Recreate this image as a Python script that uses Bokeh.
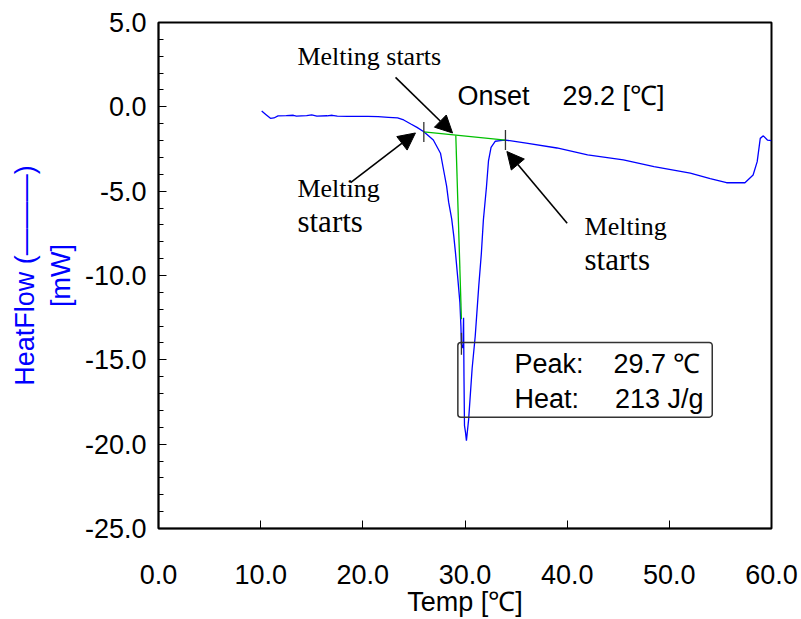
from bokeh.plotting import figure
from bokeh.models import (Range1d, SingleIntervalTicker, NumeralTickFormatter, Arrow,
                          NormalHead, BoxAnnotation, Label)
from bokeh.embed import file_html
from bokeh.resources import INLINE

# ---- data ----
temp = [10.1, 10.5, 10.96, 11.3, 11.7, 12.5, 13.2, 13.5, 14.5, 15.0, 15.5, 16.5, 17.0, 17.5,
        18.5, 19.5, 20.5, 21.5, 22.5, 23.4, 24.0, 24.7, 25.3, 25.97, 26.9, 27.6, 27.9, 28.2,
        28.4, 28.7, 28.9, 29.06, 29.3, 29.5, 29.6, 29.65, 29.8, 29.86, 29.9, 29.95, 30.05,
        30.14, 30.36, 30.7, 31.0, 31.35, 31.6, 31.8, 32.1, 32.3, 32.55, 32.97, 33.46, 33.96,
        36.0, 39.0, 42.0, 45.5, 48.5, 52.05, 54.0, 55.6, 57.4, 58.2, 58.6, 58.9, 59.2, 59.6, 60.0]
heat = [-0.25, -0.45, -0.68, -0.66, -0.54, -0.52, -0.50, -0.55, -0.52, -0.48, -0.55, -0.53,
        -0.50, -0.55, -0.56, -0.56, -0.57, -0.58, -0.62, -0.66, -0.78, -1.02, -1.22, -1.48,
        -1.97, -2.75, -3.73, -4.7, -5.65, -6.66, -7.65, -8.6, -10.2, -11.6, -13.0, -14.1,
        -14.3, -12.5, -16.0, -18.9, -19.3, -19.8, -18.5, -15.5, -13.6, -10.6, -8.7, -6.7,
        -4.75, -3.2, -2.4, -2.04, -2.0, -1.97, -2.15, -2.44, -2.85, -3.15, -3.55, -3.93,
        -4.25, -4.5, -4.5, -4.04, -3.25, -1.87, -1.72, -1.97, -2.0]

baseline_t = [25.97, 33.96]
baseline_v = [-1.48, -1.97]
onset_t = [29.1, 29.65]
onset_v = [-1.7, -12.6]
mark_t = [25.97, 33.96, 29.65]
mark_top = [-0.9, -1.37, -13.4]
mark_bot = [-2.09, -2.56, -14.7]

SANS = "Liberation Sans"
SERIF = "Liberation Serif"

p = figure(width=801, height=619, x_range=Range1d(0, 60), y_range=Range1d(-25, 5),
           output_backend="svg", toolbar_location=None,
           min_border_left=158, min_border_right=30, min_border_top=22, min_border_bottom=89)
p.background_fill_color = "white"
p.border_fill_color = "white"
p.outline_line_color = "black"
p.outline_line_width = 2
p.outline_line_alpha = 1
p.grid.visible = False

# axes
p.xaxis.ticker = SingleIntervalTicker(interval=10, num_minor_ticks=0)
p.yaxis.ticker = SingleIntervalTicker(interval=5, num_minor_ticks=5)
p.xaxis.formatter = NumeralTickFormatter(format="0.0")
p.yaxis.formatter = NumeralTickFormatter(format="0.0")
for ax in (p.xaxis, p.yaxis):
    ax.major_tick_in = 8
    ax.major_tick_out = 0
    ax.minor_tick_in = 5
    ax.minor_tick_out = 0
    ax.axis_line_color = "black"
    ax.axis_line_width = 1.5
    ax.major_tick_line_color = "black"
    ax.minor_tick_line_color = "black"
    ax.major_label_text_font = SANS
    ax.major_label_text_font_size = "27px"
    ax.major_label_text_color = "black"
    ax.axis_label_text_font = SANS
    ax.axis_label_text_font_size = "27px"
    ax.axis_label_text_font_style = "normal"
p.xaxis.axis_label = "Temp [℃]"
p.xaxis.axis_label_text_color = "black"
p.xaxis.major_label_standoff = 36
p.xaxis.axis_label_standoff = 0
p.yaxis.axis_label = "HeatFlow (———)\n[mW]"
p.yaxis.axis_label_text_color = "#0000FF"
p.yaxis.major_label_standoff = 12
p.yaxis.axis_label_standoff = 6

# curve
p.line(temp, heat, line_color="#0000FF", line_width=1.3)
# analysis lines
p.line(baseline_t, baseline_v, line_color="#00C000", line_width=1.3)
p.line(onset_t, onset_v, line_color="#00C000", line_width=1.3)
p.segment(x0=mark_t, y0=mark_top, x1=mark_t, y1=mark_bot, line_color="#333333", line_width=1.3)

# arrows
arrows = [((23.2, 1.75), (28.78, -1.55)),
          ((18.8, -4.5), (25.15, -1.55)),
          ((40.0, -6.9), (34.1, -2.65))]
for (xs, ys), (xe, ye) in arrows:
    p.add_layout(Arrow(end=NormalHead(size=17, fill_color="black", line_color="black"),
                       x_start=xs, y_start=ys, x_end=xe, y_end=ye,
                       line_color="black", line_width=1.6))

# result box
p.add_layout(BoxAnnotation(left=29.3, right=54.2, top=-13.97, bottom=-18.4,
                           fill_color=None, fill_alpha=0, line_color="#333333",
                           line_alpha=1, line_width=1.5, border_radius=3))

def lab(x, y, t, font=SANS, size="27px", align="left"):
    p.add_layout(Label(x=x, y=y + 0.6, text=t, text_font=font, text_font_size=size,
                       text_align=align, text_baseline="alphabetic", text_color="black"))

lab(29.26, 0.04, "Onset")
lab(39.54, 0.04, "29.2 [℃]")
lab(34.84, -15.85, "Peak:")
lab(53.05, -15.85, "29.7 ℃", align="right")
lab(34.84, -17.9, "Heat:")
lab(53.35, -17.9, "213 J/g", align="right")

lab(13.6, 2.4, "Melting starts", font=SERIF, size="26px")
lab(13.6, -5.45, "Melting", font=SERIF, size="26px")
lab(13.6, -7.40, "starts", font=SERIF, size="31px")
lab(41.7, -7.70, "Melting", font=SERIF, size="26px")
lab(41.7, -9.65, "starts", font=SERIF, size="31px")

open("out.html", "w").write(file_html(p, INLINE))
